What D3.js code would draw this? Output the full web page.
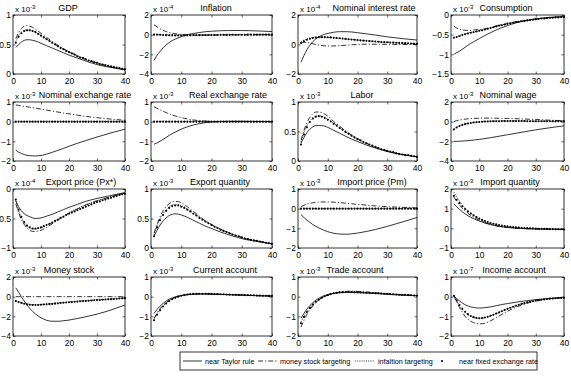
<!DOCTYPE html>
<html>
<head>
<meta charset="utf-8">
<script src="https://cdn.jsdelivr.net/npm/d3@7"></script>
<style>
  body { margin: 0; background: #fff; }
  text { font-family: "Liberation Sans", Arial, sans-serif; fill: #000; }
  .tick line { stroke: #000; stroke-width: 0.6; }
  .tick text { font-size: 8.5px; }
</style>
</head>
<body>
<div id="chart"></div>
<script>
// sample periods for the three lines, every period for the dot series
var tLine = [1,2,3,4,5,6,7,8,10,12,14,16,18,20,23,26,30,35,40];
var tDots = d3.range(1, 41);

var titles = ["GDP", "Inflation", "Nominal interest rate", "Consumption",
  "Nominal exchange rate", "Real exchange rate", "Labor", "Nominal wage",
  "Export price (Px*)", "Export quantity", "Import price (Pm)", "Import quantity",
  "Money stock", "Current account", "Trade account", "Income account"];
var exponents = ["-3","-4","-4","-3","-3","-3","-3","-3","-4","-3","-3","-3","-3","-3","-3","-7"];
var yDomains = [[0,1],[-4,2],[-2,2],[-1.5,0],[-2,1],[-2,1],[0,1],[-4,2],
  [-1,0],[0,1],[-2,1],[-1,2],[-4,2],[-2,1],[-2,1],[-2,1]];
var yTicks = [[0,0.5,1],[-4,-2,0,2],[-2,0,2],[-1.5,-1,-0.5,0],[-2,-1,0,1],[-2,-1,0,1],
  [0,0.5,1],[-4,-2,0,2],[-1,-0.5,0],[0,0.5,1],[-2,-1,0,1],[-1,0,1,2],
  [-4,-2,0,2],[-2,-1,0,1],[-2,-1,0,1],[-2,-1,0,1]];
var xTicks = [0,10,20,30,40];
var legendLabels = ["near Taylor rule", "money stock targeting", "infaltion targeting", "near fixed exchange rate"];

// GDP
var gdpTaylor = [0.45,0.5,0.54,0.57,0.58,0.58,0.57,0.56,0.52,0.48,0.44,0.40,0.36,0.32,0.27,0.22,0.16,0.11,0.07];
var gdpMoney  = [0.60,0.70,0.77,0.81,0.82,0.81,0.79,0.76,0.69,0.62,0.55,0.49,0.43,0.38,0.31,0.25,0.19,0.12,0.08];
var gdpInfl   = [0.55,0.65,0.71,0.74,0.75,0.74,0.73,0.71,0.65,0.59,0.53,0.47,0.42,0.37,0.30,0.24,0.18,0.12,0.07];
var gdpFixed  = [0.53,0.63,0.69,0.73,0.74,0.74,0.73,0.71,0.68,0.65,0.62,0.59,0.56,0.53,0.50,0.47,0.44,0.42,0.39,0.37,
  0.35,0.33,0.30,0.28,0.27,0.25,0.23,0.22,0.20,0.19,0.17,0.16,0.15,0.14,0.13,0.12,0.11,0.10,0.09,0.08];
// Inflation
var infTaylor = [-2.6,-2.1,-1.7,-1.35,-1.05,-0.8,-0.6,-0.45,-0.2,0.0,0.12,0.22,0.3,0.35,0.4,0.42,0.42,0.38,0.32];
var infMoney  = [1.0,0.8,0.6,0.45,0.32,0.22,0.15,0.1,0.03,-0.02,-0.04,-0.05,-0.05,-0.05,-0.04,-0.03,-0.02,-0.01,0];
var infInfl   = [0.03,0.02,0.01,0,-0.01,-0.02,-0.02,-0.03,-0.03,-0.03,-0.03,-0.02,-0.02,-0.02,-0.01,-0.01,0,0,0];
var infFixed  = [0,0,-0.02,-0.03,-0.05,-0.06,-0.07,-0.08,-0.08,-0.08,-0.08,-0.07,-0.07,-0.06,-0.06,-0.05,-0.05,-0.04,-0.04,-0.03,
  -0.03,-0.03,-0.02,-0.02,-0.02,-0.02,-0.01,-0.01,-0.01,-0.01,-0.01,0,0,0,0,0,0,0,0,0];
// Nominal interest rate
var nirTaylor = [-1.2,-0.75,-0.35,-0.05,0.2,0.38,0.52,0.62,0.75,0.83,0.87,0.87,0.85,0.8,0.72,0.64,0.52,0.4,0.3];
var nirMoney  = [0.1,0.15,0.14,0.1,0.05,0,-0.04,-0.07,-0.1,-0.1,-0.08,-0.05,-0.02,0,0.02,0.02,0.01,0,0];
var nirInfl   = [0.2,0.3,0.38,0.44,0.48,0.5,0.5,0.5,0.48,0.45,0.42,0.38,0.34,0.3,0.25,0.2,0.15,0.1,0.05];
var nirFixed  = [0.1,0.22,0.32,0.39,0.44,0.47,0.49,0.5,0.5,0.49,0.48,0.46,0.44,0.42,0.40,0.38,0.36,0.34,0.32,0.30,
  0.28,0.26,0.25,0.23,0.22,0.20,0.19,0.17,0.16,0.15,0.14,0.13,0.12,0.11,0.10,0.09,0.08,0.07,0.06,0.05];
// Consumption
var conTaylor = [-1.0,-0.96,-0.92,-0.87,-0.82,-0.77,-0.72,-0.68,-0.6,-0.52,-0.45,-0.38,-0.32,-0.27,-0.2,-0.15,-0.1,-0.06,-0.04];
var conMoney  = [-0.28,-0.33,-0.36,-0.38,-0.39,-0.39,-0.39,-0.38,-0.37,-0.35,-0.32,-0.28,-0.25,-0.22,-0.17,-0.14,-0.1,-0.07,-0.05];
var conInfl   = [-0.57,-0.55,-0.52,-0.5,-0.48,-0.46,-0.44,-0.43,-0.4,-0.37,-0.33,-0.29,-0.25,-0.22,-0.18,-0.14,-0.1,-0.07,-0.05];
var conFixed  = [-0.58,-0.56,-0.54,-0.51,-0.49,-0.47,-0.45,-0.44,-0.42,-0.40,-0.39,-0.37,-0.35,-0.33,-0.31,-0.29,-0.27,-0.26,-0.24,-0.22,
  -0.21,-0.20,-0.18,-0.17,-0.16,-0.15,-0.14,-0.13,-0.12,-0.11,-0.10,-0.09,-0.09,-0.08,-0.07,-0.07,-0.06,-0.06,-0.05,-0.05];
// Nominal exchange rate
var nerTaylor = [-1.45,-1.55,-1.62,-1.67,-1.71,-1.73,-1.74,-1.74,-1.72,-1.65,-1.56,-1.46,-1.36,-1.25,-1.1,-0.96,-0.78,-0.57,-0.38];
var nerMoney  = [0.85,0.83,0.8,0.78,0.76,0.73,0.71,0.69,0.64,0.59,0.54,0.49,0.44,0.4,0.33,0.27,0.2,0.13,0.07];
var nerInfl   = [0,0,0,0,0,0,0,0,0,0,0,0,0,0,0,0,0,0,0];
var nerFixed  = [0,0,0,0,0,0,0,0,0,0,0,0,0,0,0,0,0,0,0,0,0,0,0,0,0,0,0,0,0,0,0,0,0,0,0,0,0,0,0,0];
// Real exchange rate
var rerTaylor = [-1.15,-1.08,-1.0,-0.9,-0.8,-0.7,-0.61,-0.53,-0.38,-0.26,-0.17,-0.1,-0.05,-0.02,0.01,0.02,0.02,0.01,0.01];
var rerMoney  = [0.75,0.68,0.6,0.53,0.46,0.4,0.34,0.29,0.21,0.14,0.09,0.05,0.03,0.01,0,0,0,0,0];
var rerInfl   = [0,0,0,0,0,0,0,0,0,0,0,0,0,0,0,0,0,0,0];
var rerFixed  = [0,0,0,0,0,0,0,0,0,0,0,0,0,0,0,0,0,0,0,0,0,0,0,0,0,0,0,0,0,0,0,0,0,0,0,0,0,0,0,0];
// Labor
var labTaylor = [0.3,0.4,0.48,0.54,0.58,0.6,0.6,0.6,0.57,0.52,0.47,0.42,0.37,0.33,0.27,0.22,0.16,0.11,0.07];
var labMoney  = [0.35,0.52,0.65,0.74,0.8,0.83,0.83,0.82,0.76,0.67,0.59,0.51,0.44,0.38,0.3,0.24,0.17,0.11,0.07];
var labInfl   = [0.32,0.48,0.6,0.68,0.73,0.76,0.77,0.76,0.71,0.64,0.56,0.49,0.43,0.37,0.3,0.23,0.17,0.11,0.07];
var labFixed  = [0.28,0.45,0.57,0.66,0.72,0.75,0.76,0.75,0.73,0.70,0.67,0.63,0.60,0.56,0.53,0.49,0.46,0.43,0.40,0.37,
  0.35,0.32,0.30,0.28,0.26,0.24,0.22,0.20,0.19,0.17,0.16,0.15,0.13,0.12,0.11,0.10,0.10,0.09,0.08,0.07];
// Nominal wage
var nwTaylor = [-2.0,-2.0,-1.99,-1.97,-1.95,-1.93,-1.9,-1.87,-1.8,-1.72,-1.63,-1.53,-1.43,-1.33,-1.18,-1.03,-0.83,-0.62,-0.42];
var nwMoney  = [0.0,0.1,0.17,0.22,0.26,0.29,0.31,0.33,0.35,0.36,0.36,0.35,0.34,0.33,0.3,0.27,0.22,0.15,0.1];
var nwInfl   = [-0.75,-0.55,-0.4,-0.3,-0.22,-0.15,-0.1,-0.06,0,0.04,0.06,0.07,0.07,0.07,0.07,0.06,0.05,0.04,0.03];
var nwFixed  = [-0.8,-0.6,-0.45,-0.33,-0.25,-0.18,-0.13,-0.09,-0.06,-0.03,-0.01,0.01,0.02,0.03,0.04,0.05,0.05,0.06,0.06,0.06,
  0.06,0.06,0.06,0.06,0.06,0.06,0.05,0.05,0.05,0.05,0.05,0.04,0.04,0.04,0.04,0.04,0.03,0.03,0.03,0.03];
// Export price
var xpTaylor = [-0.2,-0.3,-0.37,-0.42,-0.45,-0.47,-0.49,-0.5,-0.49,-0.46,-0.43,-0.39,-0.35,-0.31,-0.26,-0.21,-0.16,-0.11,-0.06];
var xpMoney  = [-0.25,-0.4,-0.52,-0.6,-0.66,-0.7,-0.72,-0.72,-0.7,-0.65,-0.59,-0.53,-0.47,-0.41,-0.34,-0.27,-0.2,-0.13,-0.07];
var xpInfl   = [-0.2,-0.36,-0.48,-0.57,-0.63,-0.66,-0.68,-0.68,-0.66,-0.62,-0.57,-0.51,-0.46,-0.4,-0.33,-0.27,-0.2,-0.13,-0.07];
var xpFixed  = [-0.18,-0.35,-0.47,-0.56,-0.62,-0.65,-0.67,-0.67,-0.66,-0.65,-0.63,-0.61,-0.59,-0.57,-0.54,-0.52,-0.49,-0.47,-0.44,-0.42,
  -0.40,-0.38,-0.36,-0.34,-0.32,-0.30,-0.28,-0.26,-0.24,-0.22,-0.21,-0.19,-0.18,-0.16,-0.15,-0.13,-0.12,-0.10,-0.09,-0.08];
// Export quantity
var xqTaylor = [0.2,0.3,0.39,0.46,0.51,0.55,0.57,0.58,0.56,0.52,0.47,0.42,0.37,0.33,0.27,0.22,0.16,0.11,0.07];
var xqMoney  = [0.25,0.4,0.53,0.63,0.7,0.75,0.78,0.79,0.77,0.7,0.62,0.54,0.46,0.4,0.32,0.25,0.18,0.12,0.07];
var xqInfl   = [0.22,0.37,0.49,0.58,0.65,0.7,0.73,0.74,0.72,0.66,0.59,0.52,0.45,0.39,0.31,0.25,0.18,0.12,0.07];
var xqFixed  = [0.2,0.35,0.47,0.56,0.63,0.68,0.71,0.72,0.72,0.70,0.68,0.65,0.62,0.58,0.55,0.51,0.48,0.45,0.42,0.39,
  0.36,0.34,0.31,0.29,0.27,0.25,0.23,0.21,0.20,0.18,0.16,0.15,0.14,0.13,0.12,0.11,0.10,0.09,0.08,0.07];
// Import price
var mpTaylor = [-0.3,-0.45,-0.58,-0.7,-0.81,-0.9,-0.98,-1.05,-1.17,-1.25,-1.29,-1.3,-1.28,-1.24,-1.16,-1.06,-0.9,-0.68,-0.45];
var mpMoney  = [0.1,0.17,0.23,0.27,0.3,0.32,0.33,0.34,0.34,0.33,0.31,0.28,0.25,0.22,0.18,0.14,0.1,0.07,0.04];
var mpInfl   = [0,0,0,0,0,0,0,0,0,0,0,0,0,0,0,0,0,0,0];
var mpFixed  = [0,0,0,0,0,0,0,0,0,0,0,0,0,0,0,0,0,0,0,0,0,0,0,0,0,0,0,0,0,0,0,0,0,0,0,0,0,0,0,0];
// Import quantity
var mqTaylor = [1.25,1.1,0.96,0.84,0.73,0.64,0.56,0.49,0.37,0.27,0.19,0.13,0.08,0.05,0.01,-0.01,-0.03,-0.04,-0.05];
var mqMoney  = [1.6,1.38,1.19,1.02,0.88,0.76,0.65,0.56,0.41,0.29,0.2,0.13,0.08,0.05,0.01,-0.01,-0.03,-0.04,-0.05];
var mqInfl   = [1.85,1.6,1.38,1.19,1.02,0.88,0.76,0.65,0.47,0.33,0.22,0.14,0.09,0.05,0.01,-0.02,-0.04,-0.05,-0.06];
var mqFixed  = [1.65,1.45,1.28,1.12,0.98,0.86,0.75,0.66,0.57,0.5,0.43,0.37,0.32,0.27,0.23,0.2,0.17,0.14,0.12,0.1,
  0.08,0.06,0.05,0.04,0.03,0.02,0.01,0,0,-0.01,-0.02,-0.02,-0.03,-0.03,-0.04,-0.04,-0.05,-0.05,-0.05,-0.06];
// Money stock
var msTaylor = [0.9,0.45,0.0,-0.45,-0.85,-1.2,-1.5,-1.75,-2.15,-2.4,-2.5,-2.5,-2.45,-2.38,-2.22,-2.04,-1.78,-1.35,-0.85];
var msMoney  = [0,0,0,0,0,0,0,0,0,0,0,0,0,0,0,0,0,0,0];
var msInfl   = [-0.4,-0.5,-0.6,-0.68,-0.74,-0.78,-0.8,-0.8,-0.78,-0.74,-0.69,-0.64,-0.59,-0.54,-0.47,-0.4,-0.32,-0.23,-0.15];
var msFixed  = [-0.45,-0.55,-0.65,-0.72,-0.78,-0.82,-0.84,-0.85,-0.84,-0.82,-0.8,-0.78,-0.76,-0.74,-0.71,-0.68,-0.65,-0.62,-0.6,-0.57,
  -0.55,-0.52,-0.5,-0.47,-0.45,-0.43,-0.41,-0.39,-0.37,-0.35,-0.33,-0.31,-0.29,-0.27,-0.25,-0.23,-0.21,-0.19,-0.17,-0.15];
// Current account
var caTaylor = [-0.85,-0.65,-0.48,-0.34,-0.22,-0.13,-0.06,-0.01,0.06,0.1,0.12,0.13,0.13,0.12,0.11,0.1,0.08,0.05,0.03];
var caMoney  = [-1.1,-0.83,-0.61,-0.44,-0.3,-0.19,-0.1,-0.04,0.05,0.11,0.14,0.15,0.15,0.14,0.12,0.1,0.08,0.05,0.03];
var caInfl   = [-1.15,-0.88,-0.66,-0.48,-0.33,-0.21,-0.12,-0.05,0.05,0.11,0.14,0.15,0.15,0.14,0.12,0.1,0.08,0.05,0.03];
var caFixed  = [-1.2,-0.92,-0.69,-0.5,-0.35,-0.23,-0.13,-0.06,0,0.05,0.08,0.11,0.13,0.14,0.15,0.15,0.15,0.15,0.14,0.14,
  0.13,0.13,0.12,0.12,0.11,0.11,0.1,0.1,0.09,0.09,0.08,0.08,0.07,0.07,0.06,0.06,0.05,0.05,0.04,0.04];
// Trade account
var taTaylor = [-1.1,-0.85,-0.63,-0.45,-0.3,-0.18,-0.08,0.0,0.11,0.17,0.2,0.21,0.21,0.2,0.18,0.16,0.12,0.08,0.05];
var taMoney  = [-1.55,-1.2,-0.9,-0.66,-0.46,-0.3,-0.17,-0.07,0.08,0.18,0.24,0.27,0.28,0.27,0.24,0.2,0.15,0.1,0.06];
var taInfl   = [-1.3,-1.0,-0.76,-0.56,-0.39,-0.25,-0.14,-0.05,0.08,0.16,0.21,0.24,0.24,0.23,0.21,0.18,0.14,0.09,0.05];
var taFixed  = [-1.35,-1.03,-0.78,-0.57,-0.4,-0.26,-0.15,-0.06,0.02,0.08,0.13,0.17,0.2,0.22,0.23,0.24,0.24,0.24,0.23,0.23,
  0.22,0.21,0.2,0.2,0.19,0.18,0.17,0.16,0.15,0.14,0.13,0.12,0.11,0.1,0.09,0.09,0.08,0.07,0.06,0.05];
// Income account
var iaTaylor = [0.05,-0.1,-0.22,-0.32,-0.41,-0.47,-0.52,-0.55,-0.58,-0.56,-0.52,-0.46,-0.4,-0.35,-0.28,-0.22,-0.15,-0.09,-0.05];
var iaMoney  = [0.05,-0.25,-0.55,-0.8,-1.0,-1.14,-1.25,-1.32,-1.38,-1.35,-1.23,-1.07,-0.9,-0.74,-0.54,-0.38,-0.22,-0.1,-0.05];
var iaInfl   = [0.05,-0.2,-0.45,-0.65,-0.8,-0.92,-1.0,-1.06,-1.1,-1.07,-0.98,-0.86,-0.73,-0.61,-0.45,-0.32,-0.19,-0.09,-0.04];
var iaFixed  = [0.05,-0.2,-0.43,-0.62,-0.77,-0.89,-0.98,-1.04,-1.08,-1.1,-1.09,-1.06,-1.02,-0.97,-0.92,-0.86,-0.8,-0.74,-0.68,-0.62,
  -0.56,-0.51,-0.46,-0.41,-0.37,-0.33,-0.29,-0.26,-0.23,-0.2,-0.18,-0.16,-0.14,-0.12,-0.1,-0.09,-0.08,-0.07,-0.06,-0.05];

var seriesTaylor = [gdpTaylor, infTaylor, nirTaylor, conTaylor, nerTaylor, rerTaylor, labTaylor, nwTaylor,
  xpTaylor, xqTaylor, mpTaylor, mqTaylor, msTaylor, caTaylor, taTaylor, iaTaylor];
var seriesMoney = [gdpMoney, infMoney, nirMoney, conMoney, nerMoney, rerMoney, labMoney, nwMoney,
  xpMoney, xqMoney, mpMoney, mqMoney, msMoney, caMoney, taMoney, iaMoney];
var seriesInfl = [gdpInfl, infInfl, nirInfl, conInfl, nerInfl, rerInfl, labInfl, nwInfl,
  xpInfl, xqInfl, mpInfl, mqInfl, msInfl, caInfl, taInfl, iaInfl];
var seriesFixed = [gdpFixed, infFixed, nirFixed, conFixed, nerFixed, rerFixed, labFixed, nwFixed,
  xpFixed, xqFixed, mpFixed, mqFixed, msFixed, caFixed, taFixed, iaFixed];

// layout
var W = 571, H = 377;
var colLeft = [13, 151, 298, 451],
    colRight = [125, 272, 417, 564],
    rowTop = [15, 102, 189, 277],
    ph = 59;
// title centre, measured from the box's left edge
var titleDx = [55,65,76,55, 72,77,64,57, 68,69,74,59, 56,74,57,63];

var svg = d3.select("#chart")
    .append("svg")
    .attr("width", W)
    .attr("height", H);

function zip(xs, ys) {
    return xs.map(function(x, i){ return [x, ys[i]]; });
}

function drawPanel(i) {
    var col = i % 4, row = Math.floor(i / 4);
    var pw = colRight[col] - colLeft[col];
    var g = svg.append("g")
        .attr("transform", "translate(" + colLeft[col] + "," + rowTop[row] + ")");

    var x = d3.scaleLinear().domain([0, 40]).range([0, pw]);
    var y = d3.scaleLinear().domain(yDomains[i]).range([ph, 0]);

    // inward ticks on all four sides, MATLAB style
    g.append("g")
        .attr("transform", "translate(0," + ph + ")")
        .call(d3.axisBottom(x).tickValues(xTicks).tickSize(-2.5).tickPadding(4)
            .tickFormat(d3.format("d")));
    g.append("g")
        .call(d3.axisTop(x).tickValues(xTicks).tickSize(-2.5).tickFormat(""));
    g.append("g")
        .call(d3.axisLeft(y).tickValues(yTicks[i]).tickSize(-2.5).tickPadding(2)
            .tickFormat(function(d){ return d3.format("")(d); }));
    g.append("g")
        .attr("transform", "translate(" + pw + ",0)")
        .call(d3.axisRight(y).tickValues(yTicks[i]).tickSize(-2.5).tickFormat(""));
    g.selectAll(".domain").remove();
    g.selectAll(".tick text").attr("fill", "#000");

    g.append("rect")
        .attr("width", pw)
        .attr("height", ph)
        .attr("fill", "none")
        .attr("stroke", "#000")
        .attr("stroke-width", 0.8);

    var line = d3.line()
        .x(function(d){ return x(d[0]); })
        .y(function(d){ return y(d[1]); })
        .curve(d3.curveMonotoneX);

    g.append("path")
        .attr("d", line(zip(tLine, seriesInfl[i])))
        .attr("fill", "none")
        .attr("stroke", "#000")
        .attr("stroke-width", 0.8)
        .attr("stroke-dasharray", "1,1.2");

    g.append("path")
        .attr("d", line(zip(tLine, seriesMoney[i])))
        .attr("fill", "none")
        .attr("stroke", "#000")
        .attr("stroke-width", 0.8)
        .attr("stroke-dasharray", "5,2,1.2,2");

    g.append("path")
        .attr("d", line(zip(tLine, seriesTaylor[i])))
        .attr("fill", "none")
        .attr("stroke", "#000")
        .attr("stroke-width", 0.8);

    g.selectAll(".dot")
        .data(zip(tDots, seriesFixed[i]))
        .enter()
        .append("circle")
        .attr("class", "dot")
        .attr("cx", function(d){ return x(d[0]); })
        .attr("cy", function(d){ return y(d[1]); })
        .attr("r", 1.05)
        .attr("fill", "#000");

    // exponent label
    var ex = g.append("text")
        .attr("x", 2)
        .attr("y", -3)
        .style("font-size", "8px");
    ex.append("tspan").text("x 10");
    ex.append("tspan")
        .attr("dy", -3.5)
        .style("font-size", "6px")
        .text(exponents[i]);

    g.append("text")
        .attr("x", titleDx[i])
        .attr("y", -4)
        .attr("text-anchor", "middle")
        .style("font-size", "9px")
        .text(titles[i]);
}

for (var i = 0; i < 16; i++) drawPanel(i);

// legend
var lg = svg.append("g").attr("transform", "translate(180,352)");
lg.append("rect")
    .attr("width", 357)
    .attr("height", 18)
    .attr("fill", "#fff")
    .attr("stroke", "#000")
    .attr("stroke-width", 0.8);

var legendX = [3, 78, 175, 262];
var textX = [25, 100, 198, 279];
var dashes = [null, "5,2,1.2,2", "1,1.2", "dot"];
legendLabels.forEach(function(lbl, k) {
    var lx = legendX[k];
    if (dashes[k] === "dot") {
        lg.append("circle").attr("cx", lx).attr("cy", 9).attr("r", 1.05).attr("fill", "#000");
    } else {
        lg.append("line")
            .attr("x1", lx).attr("x2", lx + 19)
            .attr("y1", 9).attr("y2", 9)
            .attr("stroke", "#000")
            .attr("stroke-width", 0.8)
            .attr("stroke-dasharray", dashes[k]);
    }
    lg.append("text")
        .attr("x", textX[k])
        .attr("y", 11.8)
        .style("font-size", "7.2px")
        .text(lbl);
});
</script>
</body>
</html>
